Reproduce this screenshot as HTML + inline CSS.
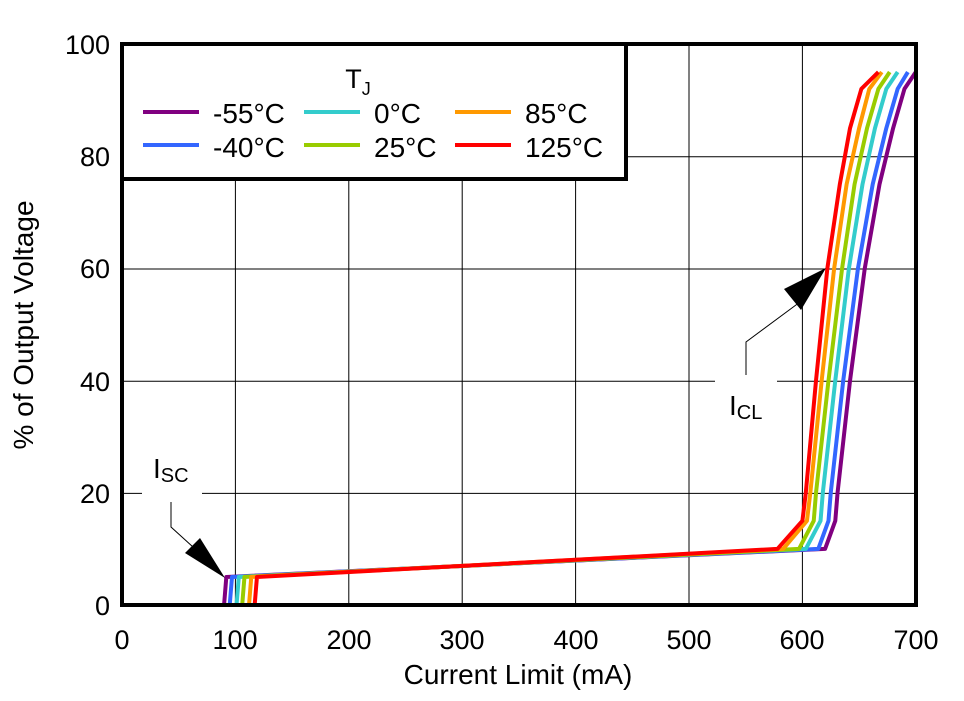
<!DOCTYPE html>
<html><head><meta charset="utf-8"><style>
html,body{margin:0;padding:0;background:#fff;}
svg{display:block;font-family:"Liberation Sans",Arial,sans-serif;}
</style></head><body>
<svg width="964" height="701" viewBox="0 0 964 701">
<rect x="0" y="0" width="964" height="701" fill="#fff"/>
<g stroke="#000" stroke-width="1">
<line x1="235.4" y1="44" x2="235.4" y2="605"/>
<line x1="348.8" y1="44" x2="348.8" y2="605"/>
<line x1="462.2" y1="44" x2="462.2" y2="605"/>
<line x1="575.6" y1="44" x2="575.6" y2="605"/>
<line x1="689" y1="44" x2="689" y2="605"/>
<line x1="802.4" y1="44" x2="802.4" y2="605"/>
<line x1="122" y1="156.8" x2="916" y2="156.8"/>
<line x1="122" y1="269" x2="916" y2="269"/>
<line x1="122" y1="381.2" x2="916" y2="381.2"/>
<line x1="122" y1="493.4" x2="916" y2="493.4"/>
</g>
<rect x="715" y="375" width="62" height="12" fill="#fff"/>
<rect x="142" y="488" width="60" height="12" fill="#fff"/>
<g transform="translate(122,605) scale(1.134,-5.61)" fill="none" stroke-width="4" stroke-linejoin="round">
<polyline vector-effect="non-scaling-stroke" stroke="#800080" points="90,0 92,5 620,10 629,15 631,20 642,40 655,60 668,75 680,85 690,92 700,95"/>
<polyline vector-effect="non-scaling-stroke" stroke="#3366ff" points="95,0 97,5 614,10 623,15 625,20 636,40 649,60 662,75 674,85 684,92 693,95"/>
<polyline vector-effect="non-scaling-stroke" stroke="#33cccc" points="101,0 103,5 603,10 616,15 618,20 629,40 641,60 653,75 664,85 674,92 684,95"/>
<polyline vector-effect="non-scaling-stroke" stroke="#99cc00" points="106,0 108,5 597,10 610,15 612,20 623,40 635,60 646,75 657,85 667,92 677,95"/>
<polyline vector-effect="non-scaling-stroke" stroke="#ff9900" points="112,0 114,5 583,10 604,15 607,20 617,40 628,60 639,75 650,85 659,92 670,95"/>
<polyline vector-effect="non-scaling-stroke" stroke="#ff0000" points="117,0 119,5 578,10 600,15 603,20 612,40 622,60 633,75 642,85 652,92 667,95"/>
</g>
<rect x="122" y="44" width="794" height="561" fill="none" stroke="#000" stroke-width="4"/>
<rect x="122" y="44" width="504" height="135" fill="#fff" stroke="#000" stroke-width="4"/>
<text x="358" y="88" font-size="27" text-anchor="middle">T<tspan font-size="18" dy="7">J</tspan></text>
<g stroke-width="4">
<line x1="143" y1="112" x2="199" y2="112" stroke="#800080"/>
<line x1="143" y1="145" x2="199" y2="145" stroke="#3366ff"/>
<line x1="304" y1="112" x2="360" y2="112" stroke="#33cccc"/>
<line x1="304" y1="145" x2="360" y2="145" stroke="#99cc00"/>
<line x1="455" y1="112" x2="511" y2="112" stroke="#ff9900"/>
<line x1="455" y1="145" x2="511" y2="145" stroke="#ff0000"/>
</g>
<g font-size="28">
<text x="213" y="123">-55°C</text>
<text x="213" y="157">-40°C</text>
<text x="374" y="123">0°C</text>
<text x="374" y="157">25°C</text>
<text x="525" y="123">85°C</text>
<text x="525" y="157">125°C</text>
</g>
<polyline points="746,375 746,342 800,302" fill="none" stroke="#000" stroke-width="1"/>
<polygon points="826,268 784,289 801,310" fill="#000"/>
<text x="729" y="415" font-size="28">I<tspan font-size="20" dy="4">CL</tspan></text>
<polyline points="171,502 171,527 193,547" fill="none" stroke="#000" stroke-width="1"/>
<polygon points="225,578 185,553 200,538" fill="#000"/>
<text x="153" y="478" font-size="28">I<tspan font-size="20" dy="4">SC</tspan></text>
<g font-size="27" text-anchor="end">
<text x="110" y="54">100</text>
<text x="110" y="166">80</text>
<text x="110" y="278">60</text>
<text x="110" y="391">40</text>
<text x="110" y="503">20</text>
<text x="110" y="615">0</text>
</g>
<g font-size="27" text-anchor="middle">
<text x="122" y="649">0</text>
<text x="235" y="649">100</text>
<text x="349" y="649">200</text>
<text x="462" y="649">300</text>
<text x="576" y="649">400</text>
<text x="689" y="649">500</text>
<text x="802" y="649">600</text>
<text x="916" y="649">700</text>
</g>
<text x="518" y="684" font-size="28" text-anchor="middle">Current Limit (mA)</text>
<text transform="translate(33,325) rotate(-90)" font-size="28" text-anchor="middle">% of Output Voltage</text>
</svg>
</body></html>
